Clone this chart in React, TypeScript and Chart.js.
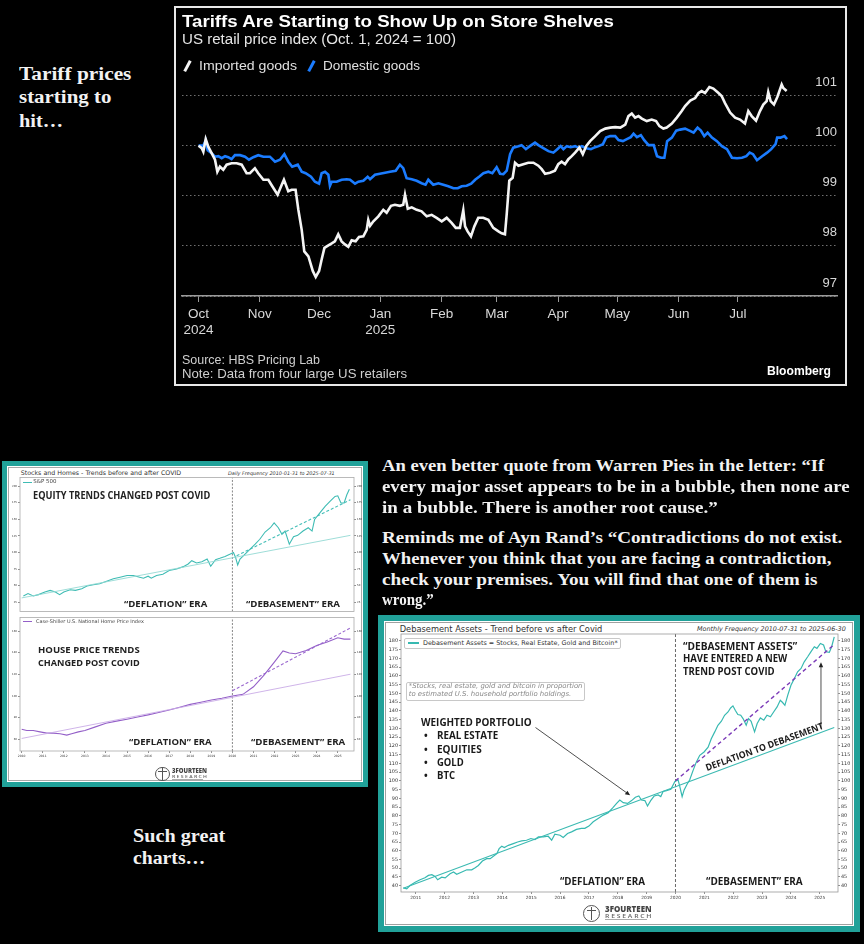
import React, { useEffect, useRef } from 'react';
import { Chart, registerables } from 'chart.js';
Chart.register(...registerables);

// ---------------- Bloomberg chart data ----------------
const bbTickDays = [0, 31, 61, 92, 123, 151, 182, 212, 243, 273];
const bbTickMonths = ['Oct', 'Nov', 'Dec', 'Jan', 'Feb', 'Mar', 'Apr', 'May', 'Jun', 'Jul'];
const bbTickYears = ['2024', '', '', '2025', '', '', '', '', '', ''];
const bbYTicks = [97, 98, 99, 100, 101];

const importedDay = [0, 1.6, 2.4, 3.6, 4.9, 6.6, 8.3, 9.5, 10.8, 12.5, 14.2, 16.7, 19.3, 21.8, 24.3, 26, 28.5, 30.2, 32.8, 35.3, 37.3, 40, 42.1, 43.2, 45.4, 47.1, 49.1, 50.5, 52.2, 53.5, 55.6, 57.8, 59.3, 61, 62.3, 63.7, 65.7, 67.4, 69, 70.7, 72.4, 74.1, 75.8, 77.5, 79.5, 81.2, 83.4, 85.1, 85.9, 86.8, 88.5, 91, 93.5, 95.2, 97.4, 99.4, 101.9, 103.6, 104.5, 105.9, 107.9, 110.4, 112.9, 115.5, 118, 120.5, 123.1, 125.6, 128.1, 130.2, 132.3, 134, 134.9, 136.2, 137.9, 139.6, 141.6, 144.1, 146.7, 149.2, 151.8, 153.4, 155.1, 156, 157.3, 159, 160.2, 161.9, 164.4, 166.9, 169.5, 172, 173.7, 175.4, 177.9, 180.4, 182.1, 183.8, 185.5, 187.2, 188.9, 190.6, 192.8, 194.5, 196.2, 198.2, 200.8, 203.3, 205.9, 208.4, 210.9, 213.5, 216, 217.6, 219.3, 221, 222.7, 224.4, 226.9, 229.4, 231.6, 233.3, 235.3, 237, 239.6, 242.1, 244.6, 246.3, 248.9, 251.4, 253.1, 254.7, 256.4, 258.6, 260.6, 263.2, 264.8, 266.5, 269.1, 271.6, 274.1, 276.6, 278.3, 280, 282.2, 284.2, 285.9, 287.6, 288.4, 289.6, 291.3, 293, 295.2, 296, 297.7];
const importedVal = [100.0, 99.95, 99.88, 100.13, 99.98, 99.85, 99.72, 99.48, 99.58, 99.52, 99.62, 99.65, 99.65, 99.62, 99.45, 99.45, 99.55, 99.45, 99.32, 99.32, 99.19, 99.02, 99.22, 99.32, 99.09, 99.12, 99.12, 98.72, 98.32, 97.89, 97.79, 97.5, 97.38, 97.5, 97.73, 97.96, 98.01, 98.05, 98.09, 98.23, 98.09, 98.03, 97.98, 98.11, 98.09, 98.18, 98.19, 98.32, 98.52, 98.4, 98.49, 98.59, 98.72, 98.66, 98.8, 98.82, 98.8, 98.82, 99.02, 98.74, 98.77, 98.72, 98.69, 98.59, 98.62, 98.56, 98.49, 98.56, 98.46, 98.36, 98.36, 98.71, 98.39, 98.29, 98.19, 98.39, 98.56, 98.56, 98.52, 98.36, 98.29, 98.25, 98.23, 98.64, 99.3, 99.36, 99.66, 99.6, 99.63, 99.66, 99.66, 99.6, 99.53, 99.44, 99.46, 99.5, 99.63, 99.68, 99.63, 99.73, 99.79, 99.86, 99.96, 99.83, 99.99, 100.09, 100.19, 100.29, 100.34, 100.36, 100.37, 100.36, 100.42, 100.59, 100.64, 100.56, 100.59, 100.54, 100.49, 100.52, 100.49, 100.39, 100.34, 100.36, 100.44, 100.56, 100.69, 100.79, 100.9, 100.95, 101.05, 101.09, 101.05, 101.17, 101.14, 101.05, 100.99, 100.85, 100.66, 100.56, 100.52, 100.44, 100.69, 100.59, 100.5, 100.69, 100.82, 100.89, 101.07, 100.89, 100.82, 100.97, 101.22, 101.15, 101.09];

const domesticDay = [0, 2.4, 3.6, 4.6, 6.6, 8.3, 10, 11.7, 13.4, 15, 16.7, 18.4, 21, 23.5, 25.5, 27.7, 30.2, 32.8, 36.1, 38.7, 41.2, 43.4, 45.4, 47.4, 50.2, 52.2, 54.2, 56.9, 58.9, 61, 62.3, 64, 65.7, 66.5, 67.4, 69.9, 72.4, 75, 76.7, 79.2, 80.9, 83.4, 85.6, 86.8, 89.3, 91.8, 94.4, 96.9, 99.8, 101.9, 103.6, 105.3, 107.9, 110.4, 112.9, 114.9, 116.3, 118.8, 121.4, 123.9, 126.4, 129, 131.2, 133.2, 135.7, 138, 140, 142, 144.2, 146.7, 148.7, 150.9, 152.6, 154.3, 156, 157.7, 159.3, 161.9, 163.5, 165.7, 167.7, 170.3, 172, 174.5, 177.1, 179.6, 181.6, 183.3, 184.7, 186.4, 188.4, 190.6, 192.3, 194, 196.2, 198.6, 200.8, 202.5, 204.7, 206.3, 208.4, 210.9, 212.6, 214.8, 216.8, 218.8, 220.2, 221.9, 223.9, 225.6, 227.8, 230.4, 232.1, 234.1, 235.8, 237.2, 239.6, 241.8, 243.8, 246.3, 248.5, 250.6, 252.6, 254.3, 256, 257.7, 259.9, 262.4, 264.9, 267.5, 270, 272.6, 275.1, 277.3, 279, 280.7, 282.7, 285.3, 287.8, 289.9, 292.1, 292.9, 294.6, 296.6, 297.9];
const domesticVal = [100.0, 100.0, 100.1, 99.91, 99.85, 99.78, 99.79, 99.75, 99.79, 99.77, 99.73, 99.81, 99.81, 99.78, 99.72, 99.77, 99.81, 99.78, 99.78, 99.68, 99.72, 99.83, 99.68, 99.58, 99.62, 99.48, 99.45, 99.38, 99.28, 99.24, 99.45, 99.48, 99.42, 99.2, 99.28, 99.28, 99.32, 99.33, 99.32, 99.24, 99.28, 99.3, 99.38, 99.33, 99.42, 99.44, 99.46, 99.48, 99.5, 99.62, 99.55, 99.35, 99.33, 99.3, 99.25, 99.22, 99.32, 99.22, 99.25, 99.22, 99.19, 99.15, 99.15, 99.19, 99.2, 99.24, 99.32, 99.38, 99.45, 99.48, 99.45, 99.57, 99.44, 99.43, 99.5, 99.83, 99.96, 99.99, 100.01, 99.93, 99.99, 100.06, 100.01, 99.95, 99.89, 99.86, 99.93, 99.99, 99.93, 99.99, 99.97, 99.99, 99.96, 99.99, 99.95, 99.93, 99.97, 99.99, 100.03, 100.16, 100.19, 100.19, 100.11, 100.09, 100.13, 100.17, 100.24, 100.17, 100.21, 100.11, 100.01, 100.01, 99.79, 99.76, 99.76, 100.09, 100.16, 100.3, 100.32, 100.34, 100.3, 100.26, 100.36, 100.3, 100.19, 100.26, 100.16, 100.09, 99.99, 99.93, 99.76, 99.75, 99.76, 99.79, 99.86, 99.83, 99.71, 99.79, 99.86, 99.93, 100.03, 100.16, 100.16, 100.19, 100.13];

// ---------------- Stocks & Homes data ----------------
const yearTicks = [2010, 2011, 2012, 2013, 2014, 2015, 2016, 2017, 2018, 2019, 2020, 2021, 2022, 2023, 2024, 2025];
const spxYTicks = [25, 50, 75, 100, 125, 150, 175, 200];
const hpiYTicks = [60, 80, 100, 120, 140, 160];
const covidYear = 2020;

const spxYear = [2010.08, 2010.3, 2010.55, 2010.8, 2011.1, 2011.35, 2011.6, 2011.8, 2012.0, 2012.3, 2012.55, 2012.85, 2013.1, 2013.4, 2013.7, 2014.0, 2014.35, 2014.67, 2015.0, 2015.3, 2015.6, 2015.78, 2016.0, 2016.15, 2016.4, 2016.7, 2017.0, 2017.35, 2017.67, 2017.9, 2018.07, 2018.3, 2018.55, 2018.8, 2018.97, 2019.2, 2019.4, 2019.65, 2019.9, 2020.05, 2020.15, 2020.25, 2020.36, 2020.6, 2020.84, 2021.08, 2021.3, 2021.55, 2021.8, 2021.98, 2022.18, 2022.35, 2022.5, 2022.7, 2022.9, 2023.1, 2023.35, 2023.6, 2023.78, 2023.9, 2024.15, 2024.4, 2024.63, 2024.87, 2025.0, 2025.15, 2025.3, 2025.43, 2025.55];
const spxVal = [34.4, 37.9, 34.4, 36.4, 40.4, 42.8, 40.4, 36.4, 40.4, 43.8, 42.8, 45.3, 49.3, 51.3, 52.8, 56.3, 60.2, 62.7, 65.2, 65.2, 62.7, 61.2, 64.2, 61.2, 65.2, 67.2, 72.7, 75.1, 78.6, 82.6, 87.6, 84.1, 86.1, 90.1, 79.1, 89.1, 91.1, 94.0, 97.5, 100, 92.5, 81.1, 90.1, 97.5, 105.0, 112.4, 119.9, 130.8, 137.3, 144.7, 137.3, 127.3, 132.3, 112.4, 123.9, 125.8, 132.3, 137.3, 132.3, 149.7, 159.6, 169.6, 177.0, 184.5, 185.5, 174.6, 174.6, 187.0, 195.4];
const spxTrendPreYear = [2010.0, 2025.6];
const spxTrendPreVal = [31.4, 125.8];
const spxTrendPostYear = [2020.2, 2025.6];
const spxTrendPostVal = [95.0, 179.5];

const hpiYear = [2010.0, 2010.24, 2010.55, 2010.87, 2011.19, 2011.5, 2011.82, 2012.14, 2012.37, 2012.69, 2013.0, 2013.5, 2014.0, 2014.5, 2015.0, 2015.5, 2016.0, 2016.5, 2017.0, 2017.5, 2018.0, 2018.5, 2019.0, 2019.5, 2020.0, 2020.5, 2021.0, 2021.5, 2022.0, 2022.4, 2022.7, 2023.0, 2023.5, 2024.0, 2024.5, 2025.0, 2025.3, 2025.6];
const hpiVal = [69.4, 68.1, 68.1, 66.9, 65.7, 65.7, 65.1, 63.9, 65.1, 66.9, 68.2, 71.5, 74.9, 76.8, 78.6, 80.6, 82.6, 84.8, 87.1, 89.7, 92.3, 94.3, 96.3, 98.0, 100.0, 101.6, 108.6, 119.3, 131.6, 141.7, 139.8, 139.2, 142.2, 146.8, 149.9, 153.9, 152.7, 152.7];
const hpiTrendPreYear = [2010.0, 2025.6];
const hpiTrendPreVal = [60.8, 120.2];
const hpiTrendPostYear = [2020.0, 2025.6];
const hpiTrendPostVal = [104.9, 163.0];

// ---------------- Debasement Assets data ----------------
const debXTicks = [2011, 2012, 2013, 2014, 2015, 2016, 2017, 2018, 2019, 2020, 2021, 2022, 2023, 2024, 2025];
const debYTicks = [40, 45, 50, 55, 60, 65, 70, 75, 80, 85, 90, 95, 100, 105, 110, 115, 120, 125, 130, 135, 140, 145, 150, 155, 160, 165, 170, 175, 180];
const debYear = [2010.57, 2010.69, 2010.8, 2010.98, 2011.15, 2011.32, 2011.44, 2011.56, 2011.67, 2011.76, 2011.9, 2012.02, 2012.19, 2012.31, 2012.42, 2012.6, 2012.77, 2012.94, 2013.06, 2013.17, 2013.31, 2013.46, 2013.58, 2013.69, 2013.81, 2013.89, 2013.98, 2014.07, 2014.21, 2014.38, 2014.53, 2014.67, 2014.84, 2014.99, 2015.13, 2015.25, 2015.42, 2015.59, 2015.71, 2015.82, 2016.0, 2016.11, 2016.26, 2016.4, 2016.57, 2016.74, 2016.86, 2017.0, 2017.15, 2017.32, 2017.5, 2017.67, 2017.84, 2017.96, 2018.07, 2018.19, 2018.34, 2018.48, 2018.61, 2018.73, 2018.82, 2018.94, 2019.03, 2019.14, 2019.26, 2019.4, 2019.49, 2019.57, 2019.69, 2019.84, 2019.98, 2020.09, 2020.15, 2020.23, 2020.3, 2020.41, 2020.49, 2020.61, 2020.72, 2020.84, 2020.99, 2021.13, 2021.24, 2021.36, 2021.47, 2021.59, 2021.7, 2021.82, 2021.91, 2021.99, 2022.07, 2022.16, 2022.26, 2022.34, 2022.45, 2022.53, 2022.62, 2022.74, 2022.83, 2022.94, 2023.06, 2023.17, 2023.29, 2023.4, 2023.52, 2023.63, 2023.71, 2023.79, 2023.89, 2024.0, 2024.12, 2024.23, 2024.35, 2024.46, 2024.58, 2024.69, 2024.81, 2024.9, 2025.02, 2025.13, 2025.21, 2025.33, 2025.41, 2025.5];
const debVal = [38.8, 38.2, 40.1, 42.0, 43.4, 44.5, 45.9, 46.3, 45.3, 43.4, 44.9, 44.5, 46.8, 47.8, 46.5, 47.8, 49.1, 49.1, 50.3, 51.6, 54.1, 55.5, 55.5, 56.8, 58.3, 61.2, 62.6, 61.8, 63.1, 64.1, 65.0, 65.6, 66.0, 67.0, 66.4, 67.9, 67.9, 68.3, 66.0, 69.5, 68.9, 67.6, 69.9, 70.8, 72.2, 72.8, 72.8, 74.1, 76.6, 78.5, 80.4, 81.8, 84.8, 87.1, 89.0, 87.5, 87.1, 88.7, 90.6, 91.3, 89.0, 88.7, 85.6, 88.7, 91.3, 91.9, 91.0, 93.9, 94.4, 95.2, 99.6, 100.5, 96.7, 91.0, 94.8, 98.3, 100.5, 106.0, 110.7, 114.6, 116.5, 119.3, 124.1, 128.0, 131.8, 134.1, 137.5, 139.4, 141.7, 142.9, 140.4, 137.9, 137.5, 135.6, 131.8, 135.6, 134.1, 128.0, 132.8, 136.0, 134.7, 137.5, 136.6, 139.4, 142.3, 146.1, 144.8, 143.2, 149.0, 154.7, 158.6, 162.4, 164.3, 168.1, 171.0, 173.8, 176.7, 175.8, 178.6, 177.7, 173.8, 173.5, 176.7, 182.4];
const debTrendPreYear = [2010.57, 2025.5];
const debTrendPreVal = [38.5, 130.5];
const debTrendPostYear = [2020.0, 2025.5];
const debTrendPostVal = [100.0, 178.0];
// annotation arrows (data coordinates)
const debArrowFrom = [[2015.15, 130.5], [2025.04, 130.0]];
const debArrowTo = [[2018.43, 91.7], [2025.04, 167.8]];

// ---------------- helpers ----------------
const FAM: any = {
  serif: '"Liberation Serif", "DejaVu Serif", serif',
  bb: '"Liberation Sans", Arial, sans-serif',
  mpl: '"DejaVu Sans", sans-serif',
  ann: '"Open Sans", "Liberation Sans", sans-serif',
};
const BASE: any = { serif: 0.8375, bb: 0.8465, mpl: 0.846, ann: 0.888 };

let mctx: any = null;
function natW(text: string, font: string) {
  if (!mctx) mctx = document.createElement('canvas').getContext('2d');
  mctx.font = font;
  return mctx.measureText(text).width;
}

function T(p: any) {
  const fam = FAM[p.f];
  const weight = p.weight ?? 400;
  const st = p.italic ? 'italic' : 'normal';
  let s = p.size ?? 10;
  let sx = 1;
  if (p.w) {
    const n = natW(p.text, `${st} ${weight} 100px ${fam}`) / 100;
    if (p.size) sx = p.w / (n * p.size);
    else s = p.w / n;
  }
  const b = BASE[p.f] * s;
  return (
    <div
      style={{
        position: 'absolute', left: p.x, top: p.y - b, fontFamily: fam, fontSize: s, fontWeight: weight,
        fontStyle: st, color: p.color ?? '#fff', whiteSpace: 'nowrap', lineHeight: '1',
        transformOrigin: `0px ${b}px`, transform: `rotate(${p.rot ?? 0}deg) scaleX(${sx})`,
      }}
    >
      {p.text}
    </div>
  );
}

const pts = (xs: number[], ys: number[]) => xs.map((x, i) => ({ x, y: ys[i] }));
const line = (xs: number[], ys: number[], color: string, width: number, dash: number[] = []) => ({
  data: pts(xs, ys), borderColor: color, borderWidth: width, borderDash: dash, pointRadius: 0, tension: 0, fill: false,
});

const framePlugin = {
  id: 'frame',
  afterDatasetsDraw(chart: any, _a: any, opts: any) {
    if (!opts || !opts.color) return;
    const { ctx, chartArea: a } = chart;
    ctx.save();
    ctx.strokeStyle = opts.color;
    ctx.lineWidth = opts.width || 0.8;
    ctx.strokeRect(a.left, a.top, a.right - a.left, a.bottom - a.top);
    ctx.restore();
  },
};

const arrowPlugin = {
  id: 'arrows',
  afterDatasetsDraw(chart: any, _a: any, opts: any) {
    const from = (opts && opts.from) || [];
    const to = (opts && opts.to) || [];
    const { ctx, scales } = chart;
    ctx.save();
    ctx.strokeStyle = '#222';
    ctx.fillStyle = '#222';
    ctx.lineWidth = 0.8;
    from.forEach((f: number[], i: number) => {
      const x1 = scales.x.getPixelForValue(f[0]);
      const y1 = scales.y.getPixelForValue(f[1]);
      const x2 = scales.x.getPixelForValue(to[i][0]);
      const y2 = scales.y.getPixelForValue(to[i][1]);
      const ang = Math.atan2(y2 - y1, x2 - x1);
      const L = 5, W = 2.2;
      ctx.beginPath();
      ctx.moveTo(x1, y1);
      ctx.lineTo(x2 - Math.cos(ang) * L * 0.8, y2 - Math.sin(ang) * L * 0.8);
      ctx.stroke();
      ctx.beginPath();
      ctx.moveTo(x2, y2);
      ctx.lineTo(x2 - Math.cos(ang) * L - Math.sin(ang) * W, y2 - Math.sin(ang) * L + Math.cos(ang) * W);
      ctx.lineTo(x2 - Math.cos(ang) * L + Math.sin(ang) * W, y2 - Math.sin(ang) * L - Math.cos(ang) * W);
      ctx.closePath();
      ctx.fill();
    });
    ctx.restore();
  },
};

function ChartCanvas({ x, y, w, h, make }: any) {
  const ref = useRef<HTMLCanvasElement>(null);
  useEffect(() => {
    const chart = new Chart(ref.current as HTMLCanvasElement, make());
    return () => chart.destroy();
  }, []);
  return <canvas ref={ref} width={w} height={h} style={{ position: 'absolute', left: x, top: y, width: w, height: h }} />;
}

// ---------------- chart configs ----------------
const bbConfig = (): any => ({
  type: 'line',
  data: {
    datasets: [
      { label: 'Imported goods', ...line(importedDay, importedVal, '#f4f4f4', 2.6) },
      { label: 'Domestic goods', ...line(domesticDay, domesticVal, '#1b7cff', 2.6) },
    ],
  },
  options: {
    responsive: false, animation: false, events: [],
    layout: { padding: { left: 6, right: 8, top: 72, bottom: 43 } },
    plugins: { legend: { display: false }, tooltip: { enabled: false } },
    scales: {
      x: {
        type: 'linear', min: -8.4, max: 323.2,
        afterBuildTicks: (s: any) => { s.ticks = bbTickDays.map((v) => ({ value: v })); },
        afterFit: (s: any) => { s.height = 45; },
        grid: { drawOnChartArea: false, drawTicks: true, tickLength: 6, color: '#9a9a9a', lineWidth: 1 },
        border: { display: true, color: '#9a9a9a', width: 1.5 },
        ticks: {
          autoSkip: false, maxRotation: 0, padding: 4, color: '#d8d8d8',
          font: { family: FAM.bb, size: 13.5, lineHeight: 1.2 },
          callback: (_v: any, i: number) => (bbTickYears[i] ? [bbTickMonths[i], bbTickYears[i]] : bbTickMonths[i]),
        },
      },
      y: {
        type: 'linear', position: 'right', min: 97, max: 101.31,
        afterBuildTicks: (s: any) => { s.ticks = bbYTicks.map((v) => ({ value: v })); },
        afterFit: (s: any) => { s.width = 0; },
        grid: { drawTicks: false, color: '#707070', lineWidth: 1 },
        border: { display: false, dash: [1.5, 2.5] },
        ticks: { mirror: true, padding: 0, labelOffset: -13, color: '#d8d8d8', font: { family: FAM.bb, size: 13 }, callback: (v: any) => String(v) },
      },
    },
  },
});

const mplConfig = (p: any): any => {
  const yAxis = (pos: string, w: number) => ({
    type: 'linear', position: pos, min: p.yMin, max: p.yMax,
    afterBuildTicks: (s: any) => { s.ticks = p.yTicks.map((v: number) => ({ value: v })); },
    afterFit: (s: any) => { s.width = w; },
    grid: { drawOnChartArea: false, drawTicks: true, tickLength: 2, color: '#444', lineWidth: 0.6 },
    border: { display: false },
    ticks: { padding: 1, color: '#333', font: { family: FAM.mpl, size: p.yFont }, callback: (v: any) => String(v) },
  });
  return {
    type: 'line',
    data: { datasets: p.datasets },
    options: {
      responsive: false, animation: false, events: [],
      layout: { padding: p.pad },
      plugins: {
        legend: { display: false }, tooltip: { enabled: false },
        frame: { color: p.frameColor, width: 0.8 },
        arrows: { from: p.arrowFrom || [], to: p.arrowTo || [] },
      },
      scales: {
        x: {
          type: 'linear', min: p.xMin, max: p.xMax, display: p.xShow,
          afterBuildTicks: (s: any) => { s.ticks = p.xTicks.map((v: number) => ({ value: v })); },
          afterFit: (s: any) => { s.height = p.xH; },
          grid: { drawOnChartArea: false, drawTicks: true, tickLength: 2, color: '#444', lineWidth: 0.6 },
          border: { display: false },
          ticks: { autoSkip: false, maxRotation: 0, padding: 1, color: '#333', font: { family: FAM.mpl, size: p.xFont, lineHeight: 1.2 }, callback: (v: any) => String(v) },
        },
        y: yAxis('left', p.leftW),
        y2: yAxis('right', p.rightW),
      },
    },
    plugins: [framePlugin, arrowPlugin],
  };
};

const spxMin = 11, spxMax = 213;
const spxConfig = () => mplConfig({
  datasets: [
    line(spxTrendPreYear, spxTrendPreVal, '#93d9d4', 0.9),
    line(spxTrendPostYear, spxTrendPostVal, '#45bfb8', 1.1, [3, 2]),
    line(spxYear, spxVal, '#3fbcb4', 1.1),
    line([covidYear, covidYear], [spxMin, spxMax], '#555', 0.7, [2, 1.5]),
  ],
  xMin: 2009.92, xMax: 2025.77, yMin: spxMin, yMax: spxMax, yTicks: spxYTicks, xTicks: yearTicks,
  xShow: false, xH: 0, leftW: 14, rightW: 12, pad: { top: 2, bottom: 2, left: 0, right: 0 },
  yFont: 2.6, xFont: 3, frameColor: '#aaa',
});

const hpiMin = 49.2, hpiMax = 172.6;
const hpiConfig = () => mplConfig({
  datasets: [
    line(hpiTrendPreYear, hpiTrendPreVal, '#c9abe6', 0.9),
    line(hpiTrendPostYear, hpiTrendPostVal, '#9a68cf', 1.1, [3, 2]),
    line(hpiYear, hpiVal, '#9460c8', 1.1),
    line([covidYear, covidYear], [hpiMin, hpiMax], '#555', 0.7, [2, 1.5]),
  ],
  xMin: 2009.92, xMax: 2025.77, yMin: hpiMin, yMax: hpiMax, yTicks: hpiYTicks, xTicks: yearTicks,
  xShow: true, xH: 8, leftW: 14, rightW: 12, pad: { top: 2, bottom: 6, left: 0, right: 0 },
  yFont: 2.6, xFont: 3, frameColor: '#aaa',
});

const debMin = 36.4, debMax = 184;
const debConfig = () => mplConfig({
  datasets: [
    line(debTrendPreYear, debTrendPreVal, '#3cbab2', 1.1),
    line(debTrendPostYear, debTrendPostVal, '#7b3ab8', 1.4, [4, 3]),
    line(debYear, debVal, '#37b9b1', 1.2),
    line([covidYear, covidYear], [debMin, debMax], '#444', 0.8, [3, 2]),
  ],
  xMin: 2010.49, xMax: 2025.63, yMin: debMin, yMax: debMax, yTicks: debYTicks, xTicks: debXTicks,
  xShow: true, xH: 10, leftW: 15, rightW: 16, pad: { top: 13, bottom: 24, left: 0, right: 0 },
  yFont: 4.9, xFont: 4.3, frameColor: '#999', arrowFrom: debArrowFrom, arrowTo: debArrowTo,
});

// ---------------- small pieces ----------------
const Box = (p: any) => (
  <div style={{ position: 'absolute', left: p.x, top: p.y, width: p.w, height: p.h, boxSizing: 'border-box', ...p.style }} />
);

function Logo({ cx, cy, r, tx, tw, b1, b2, s1, s2 }: any) {
  return (
    <>
      <div style={{ position: 'absolute', left: cx - r, top: cy - r, width: 2 * r, height: 2 * r, borderRadius: '50%', border: '1.2px solid #555', boxSizing: 'border-box' }} />
      <div style={{ position: 'absolute', left: cx - 0.6, top: cy - r * 0.8, width: 1.2, height: r * 1.6, background: '#555' }} />
      <div style={{ position: 'absolute', left: cx - r * 0.55, top: cy - r * 0.45, width: r * 1.1, height: 1.1, background: '#555' }} />
      <T f="ann" text="3FOURTEEN" x={tx} y={b1} w={tw} size={s1} weight={800} color="#444" />
      <T f="ann" text="R E S E A R C H" x={tx} y={b2} w={tw} size={s2} weight={600} color="#666" />
      <div style={{ position: 'absolute', left: tx, top: b2 + 1.2, width: tw * 0.9, height: 0.8, background: '#aaa' }} />
    </>
  );
}

export default function App() {
  const q1 = [
    ['An even better quote from Warren Pies in the letter: “If', 443.3, 472.3],
    ['every major asset appears to be in a bubble, then none are', 468.3, 493.3],
    ['in a bubble. There is another root cause.”', 336.7, 514],
    ['Reminds me of Ayn Rand’s “Contradictions do not exist.', 461.7, 544.3],
    ['Whenever you think that you are facing a contradiction,', 450, 565],
    ['check your premises. You will find that one of them is', 436.7, 585.7],
    ['wrong.”', 51.7, 605.7],
  ];
  return (
    <div style={{ position: 'relative', width: 864, height: 944, background: '#000', overflow: 'hidden' }}>
      <style>{'html,body{margin:0;padding:0;background:#000;}'}</style>

      {/* left top caption */}
      <T f="serif" text="Tariff prices" x={19} y={80.7} w={112.4} size={18.5} weight={700} color="#f2f2f2" />
      <T f="serif" text="starting to" x={19} y={103.5} w={92.4} size={18.5} weight={700} color="#f2f2f2" />
      <T f="serif" text="hit…" x={19} y={127} w={44} size={18.5} weight={700} color="#f2f2f2" />

      {/* Bloomberg chart */}
      <Box x={174} y={6} w={673} h={380} style={{ border: '2px solid #e8e8e8', background: '#000' }} />
      <ChartCanvas x={176} y={8} w={669} h={376} make={bbConfig} />
      <T f="bb" text="Tariffs Are Starting to Show Up on Store Shelves" x={182} y={26.7} w={433} size={16.3} weight={700} color="#ffffff" />
      <T f="bb" text="US retail price index (Oct. 1, 2024 = 100)" x={182} y={44} w={274} size={14} color="#e6e6e6" />
      <div style={{ position: 'absolute', left: 186, top: 60, width: 2.6, height: 12, background: '#f4f4f4', transform: 'rotate(28deg)' }} />
      <T f="bb" text="Imported goods" x={199} y={70.7} w={98} size={13.5} color="#e0e0e0" />
      <div style={{ position: 'absolute', left: 310, top: 60, width: 2.6, height: 12, background: '#1b7cff', transform: 'rotate(28deg)' }} />
      <T f="bb" text="Domestic goods" x={323} y={70.7} w={97} size={13.5} color="#e0e0e0" />
      <T f="bb" text="Source: HBS Pricing Lab" x={182} y={364.3} w={138} size={13} color="#cfcfcf" />
      <T f="bb" text="Note: Data from four large US retailers" x={182} y={377.7} w={225} size={13} color="#cfcfcf" />
      <T f="bb" text="Bloomberg" x={767.3} y={375} w={64} size={12.2} weight={700} color="#ffffff" />

      {/* Stocks and Homes composite */}
      <Box x={2} y={461} w={366} h={326} style={{ border: '5px solid #21a199', background: '#fff' }} />
      <Box x={8} y={467} w={354} h={314} style={{ border: '1px solid #a8a8a8' }} />
      <T f="mpl" text="Stocks and Homes - Trends before and after COVID" x={20.7} y={475.3} w={161} color="#333" />
      <T f="mpl" text="Daily Frequency 2010-01-31 to 2025-07-31" x={228} y={475.3} w={107} italic color="#333" />
      <ChartCanvas x={6} y={475} w={360} h={139} make={spxConfig} />
      <ChartCanvas x={6} y={615} w={360} h={150} make={hpiConfig} />
      <div style={{ position: 'absolute', left: 23.3, top: 481.6, width: 8.5, height: 0.9, background: '#3fbcb4' }} />
      <T f="mpl" text="S&P 500" x={33.3} y={483.6} w={23.3} color="#444" />
      <div style={{ position: 'absolute', left: 22.7, top: 621.3, width: 9, height: 0.9, background: '#9460c8' }} />
      <T f="mpl" text="Case-Shiller U.S. National Home Price Index" x={36} y={623.3} w={108} color="#444" />
      <T f="ann" text="EQUITY TRENDS CHANGED POST COVID" x={33.3} y={499.8} w={177.3} size={10.8} weight={700} color="#222" />
      <T f="ann" text="“DEFLATION” ERA" x={124} y={607} w={83.3} size={9.3} weight={700} color="#222" />
      <T f="ann" text="“DEBASEMENT” ERA" x={246} y={607} w={94} size={9.3} weight={700} color="#222" />
      <T f="ann" text="HOUSE PRICE TRENDS" x={38.3} y={653.3} w={101.7} size={9.3} weight={700} color="#222" />
      <T f="ann" text="CHANGED POST COVID" x={38.3} y={666} w={101.7} size={9.3} weight={700} color="#222" />
      <T f="ann" text="“DEFLATION” ERA" x={129.3} y={745.7} w={82.7} size={9.3} weight={700} color="#222" />
      <T f="ann" text="“DEBASEMENT” ERA" x={250.7} y={745.7} w={94.3} size={9.3} weight={700} color="#222" />
      <Logo cx={162.5} cy={774} r={7.3} tx={171.7} tw={35} b1={773.5} b2={778} s1={6.5} s2={3.6} />

      {/* quote text */}
      {q1.map((l: any, i: number) => (
        <T key={i} f="serif" text={l[0]} x={381.7} y={l[2]} w={l[1]} size={17.7} weight={700} color="#f2f2f2" />
      ))}

      {/* Such great charts */}
      <T f="serif" text="Such great" x={132.7} y={841.7} w={92.3} size={18} weight={700} color="#f2f2f2" />
      <T f="serif" text="charts…" x={132.7} y={864.3} w={72.3} size={18} weight={700} color="#f2f2f2" />

      {/* Debasement assets chart */}
      <Box x={378} y={615} w={482} h={317} style={{ border: '6px solid #21a199', background: '#fff' }} />
      <Box x={385} y={622} w={468} h={303} style={{ border: '1px solid #a0a0a0' }} />
      <T f="mpl" text="Debasement Assets - Trend before vs after Covid" x={399.7} y={632} w={203} color="#333" />
      <T f="mpl" text="Monthly Frequency 2010-07-31 to 2025-06-30" x={697} y={631.5} w={149} italic color="#333" />
      <ChartCanvas x={386} y={621} w={468} h={305} make={debConfig} />
      <Box x={404} y={638} w={217} h={10.5} style={{ border: '0.6px solid #c8c8c8', borderRadius: 2, background: '#fff' }} />
      <div style={{ position: 'absolute', left: 407.5, top: 642.4, width: 11, height: 1.2, background: '#37b9b1' }} />
      <T f="mpl" text="Debasement Assets = Stocks, Real Estate, Gold and Bitcoin*" x={423} y={645.3} w={195} color="#333" />
      <Box x={406} y={682} w={179} h={18.5} style={{ border: '0.6px solid #c8c8c8', borderRadius: 2, background: '#fff' }} />
      <T f="mpl" text="*Stocks, real estate, gold and bitcoin in proportion" x={408.7} y={688.6} w={174.3} italic color="#888" />
      <T f="mpl" text="to estimated U.S. household portfolio holdings." x={408.7} y={697} w={162.7} italic color="#888" />
      <T f="ann" text="WEIGHTED PORTFOLIO" x={421.3} y={726.8} w={110.7} size={9.8} weight={700} color="#1a1a1a" />
      {[['REAL ESTATE', 61.3, 740.2], ['EQUITIES', 44.7, 753.5], ['GOLD', 26.7, 766.3], ['BTC', 18, 779.5]].map((b: any, i: number) => (
        <React.Fragment key={i}>
          <T f="ann" text="•" x={424} y={b[2]} size={9.8} weight={700} color="#1a1a1a" />
          <T f="ann" text={b[0]} x={437.3} y={b[2]} w={b[1]} size={9.8} weight={700} color="#1a1a1a" />
        </React.Fragment>
      ))}
      <T f="ann" text="“DEBASEMENT ASSETS”" x={683} y={650.3} w={114.3} size={9.8} weight={700} color="#1a1a1a" />
      <T f="ann" text="HAVE ENTERED A NEW" x={683} y={663} w={104.3} size={9.8} weight={700} color="#1a1a1a" />
      <T f="ann" text="TREND POST COVID" x={683} y={676} w={91.7} size={9.8} weight={700} color="#1a1a1a" />
      <T f="ann" text="DEFLATION TO DEBASEMENT" x={706.7} y={771.5} w={124.6} size={9.3} weight={700} color="#1a1a1a" rot={-19.9} />
      <T f="ann" text="“DEFLATION” ERA" x={559.7} y={885.3} w={85} size={9.8} weight={700} color="#1a1a1a" />
      <T f="ann" text="“DEBASEMENT” ERA" x={706.3} y={885.3} w={96.7} size={9.8} weight={700} color="#1a1a1a" />
      <Logo cx={591.5} cy={913.5} r={8.5} tx={604.7} tw={46.6} b1={912} b2={917.5} s1={8} s2={4.4} />
    </div>
  );
}
